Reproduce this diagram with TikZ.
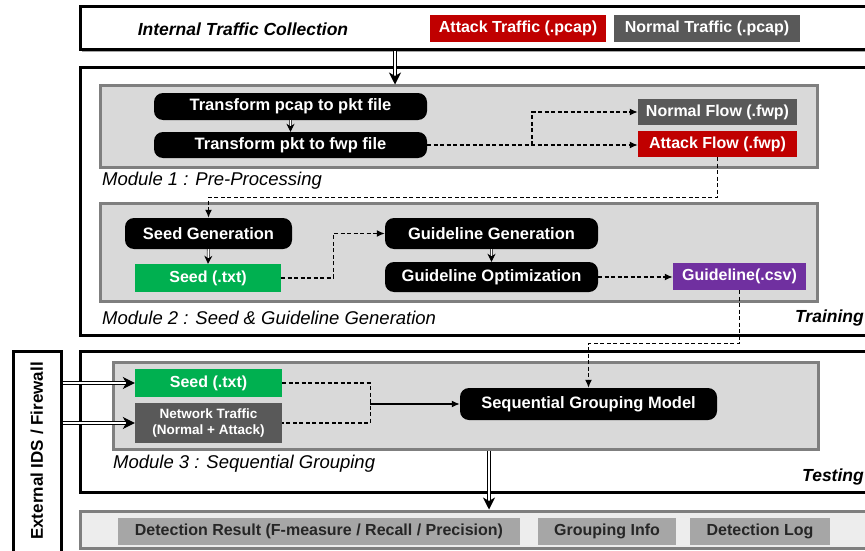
\documentclass[tikz,border=0pt]{standalone}
\usepackage{fontspec}
\setmainfont{Liberation Sans}
\usetikzlibrary{arrows.meta,shadows}
\definecolor{cred}{HTML}{C00000}
\definecolor{cdgray}{HTML}{595959}
\definecolor{cgreen}{HTML}{00B050}
\definecolor{cpurple}{HTML}{7030A0}
\definecolor{cmod}{HTML}{D9D9D9}
\definecolor{cmodb}{HTML}{7F7F7F}
\definecolor{cout}{HTML}{A6A6A6}
\definecolor{coutbg}{HTML}{EDEDED}
\tikzset{
  shd/.style={drop shadow={shadow xshift=2pt,shadow yshift=-2pt,fill=black,opacity=0.35}},
  outerbox/.style={draw=black,line width=3pt,fill=white,shd,inner sep=0pt},
  modbox/.style={draw=cmodb,line width=3pt,fill=cmod,shd,inner sep=0pt},
  proc/.style={fill=black,rounded corners=9pt,text=white,inner sep=0pt,font=\fontsize{16.5}{18}\selectfont\bfseries},
  filebox/.style={inner sep=0pt,text=white,font=\fontsize{16}{18}\selectfont\bfseries},
  outitem/.style={fill=cout,inner sep=0pt,text=black!85,font=\fontsize{16}{18}\selectfont\bfseries},
  modlabel/.style={anchor=west,inner sep=0pt,font=\fontsize{18.5}{20}\selectfont\itshape},
  phase/.style={anchor=east,inner sep=0pt,font=\fontsize{17.5}{20}\selectfont\bfseries\itshape},
  dbl/.style={draw=black,double=white,double distance=2.8pt,line width=1pt,-{Stealth[length=12pt,width=12pt,inset=3.5pt]}},
  sdbl/.style={draw=black!70,double=white,double distance=1.4pt,line width=0.8pt,-{Stealth[length=8pt,width=8pt,inset=2.5pt,black]}},
  dsh/.style={draw=black,line width=1.4pt,dash pattern=on 4pt off 2.5pt,-{Latex[length=8pt,width=7pt]}},
  dshn/.style={draw=black,line width=1.4pt,dash pattern=on 4pt off 2.5pt},
  sol/.style={draw=black,line width=1.4pt,-{Latex[length=8pt,width=7pt]}}
}
\begin{document}
\begin{tikzpicture}[x=1pt,y=-1pt]
\useasboundingbox (0,0) rectangle (865,551);
\clip (0,0) rectangle (865,551);
% outer boxes
\node[outerbox,minimum width=805pt,minimum height=43pt] (top) at (482.5,28.5) {};
\node[outerbox,minimum width=805pt,minimum height=267pt] (train) at (482.5,201.5) {};
\node[outerbox,minimum width=805pt,minimum height=141pt] (test) at (482.5,421.5) {};
\node[draw=cmodb,line width=3pt,fill=coutbg,shd,inner sep=0pt,minimum width=805pt,minimum height=37pt] (out) at (482.5,529.5) {};
\node[outerbox,minimum width=48pt,minimum height=214pt] (ids) at (37,458) {};
\node[rotate=90,inner sep=0pt,font=\fontsize{17}{19}\selectfont\bfseries] (idst) at (37,451) {External IDS / Firewall};
% top row
\node[inner sep=0pt,font=\fontsize{17.5}{19}\selectfont\bfseries\itshape] (itc) at (243,29) {Internal Traffic Collection};
\node[filebox,fill=cred,minimum width=176pt,minimum height=27pt] (attT) at (518,28.5) {Attack Traffic (.pcap)};
\node[filebox,fill=cdgray,minimum width=186pt,minimum height=27pt] (norT) at (707,28.5) {Normal Traffic (.pcap)};
% module boxes
\node[modbox,minimum width=717pt,minimum height=81pt] (m1) at (458.5,126.5) {};
\node[modbox,minimum width=717pt,minimum height=98pt] (m2) at (458.5,252) {};
\node[modbox,minimum width=705pt,minimum height=87pt] (m3) at (465.5,405.5) {};
\node[modlabel] (l1) at (102,181) {Module 1 : Pre-Processing};
\node[modlabel] (l2) at (102,318) {Module 2 : Seed \& Guideline Generation};
\node[modlabel] (l3) at (113,464) {Module 3 : Sequential Grouping};
\node[phase] (tr) at (864,318) {Training};
\node[phase] (te) at (864,477) {Testing};
% module 1
\node[proc,minimum width=273pt,minimum height=27pt] (pcap) at (290.5,106.5) {Transform pcap to pkt file};
\node[proc,minimum width=273pt,minimum height=26pt] (pkt) at (290.5,145) {Transform pkt to fwp file};
\node[filebox,fill=cdgray,minimum width=159pt,minimum height=26pt] (nflow) at (717.5,112) {Normal Flow (.fwp)};
\node[filebox,fill=cred,minimum width=159pt,minimum height=26pt] (aflow) at (717.5,144) {Attack Flow (.fwp)};
% module 2
\node[proc,minimum width=167pt,minimum height=31pt] (seedgen) at (208.5,233.5) {Seed Generation};
\node[filebox,fill=cgreen,minimum width=146pt,minimum height=28pt] (seed1) at (208,278) {Seed (.txt)};
\node[proc,minimum width=213pt,minimum height=31pt] (ggen) at (491.5,233.5) {Guideline Generation};
\node[proc,minimum width=213pt,minimum height=30pt] (gopt) at (491.5,277) {Guideline Optimization};
\node[filebox,fill=cpurple,minimum width=133pt,minimum height=27pt] (gcsv) at (739.5,276.5) {Guideline(.csv)};
% module 3
\node[filebox,fill=cgreen,minimum width=147pt,minimum height=28pt] (seed2) at (208.5,383) {Seed (.txt)};
\node[filebox,fill=cdgray,minimum width=147pt,minimum height=40pt,align=center,font=\fontsize{13.5}{16}\selectfont\bfseries] (net) at (208.5,423) {Network Traffic\\(Normal + Attack)};
\node[proc,minimum width=257pt,minimum height=32pt] (sgm) at (588.5,404) {Sequential Grouping Model};
% output
\node[outitem,minimum width=402pt,minimum height=27pt] (dr) at (319,531.5) {Detection Result (F-measure / Recall / Precision)};
\node[outitem,minimum width=138pt,minimum height=27pt] (gi) at (607,531.5) {Grouping Info};
\node[outitem,minimum width=140pt,minimum height=27pt] (dl) at (760,531.5) {Detection Log};
% helper coordinates
\coordinate (xa) at (395,0);
\coordinate (br) at (532,0);
\coordinate (xo) at (489,0);
\coordinate (j) at (370,404);
% connectors
\draw[dbl] (top.south -| xa) -- (m1.north -| xa);
\draw[sdbl] (pcap.south) -- (pkt.north);
\draw[dsh] (pkt.east) -- (pkt.east -| aflow.west);
\draw[dsh] (pkt.east -| br) |- (nflow.west);
\draw[dsh] (aflow.south) -- ++(0,40) -| (seedgen.north);
\draw[sdbl] (seedgen.south) -- (seed1.north);
\draw[dsh] (seed1.east) -- ++(52,0) |- (ggen.west);
\draw[sdbl] (ggen.south) -- (gopt.north);
\draw[dsh] (gopt.east) -- (gopt.east -| gcsv.west);
\draw[dsh] (gcsv.south) -- ++(0,53) -| (sgm.north);
\draw[dshn] (seed2.east) -- ++(88,0) |- (net.east);
\draw[sol] (j) -- (sgm.west);
\draw[dbl] (ids.east |- seed2.west) -- (seed2.west);
\draw[dbl] (ids.east |- net.west) -- (net.west);
\draw[dbl] (m3.south -| xo) -- (out.north -| xo);
\end{tikzpicture}
\end{document}
